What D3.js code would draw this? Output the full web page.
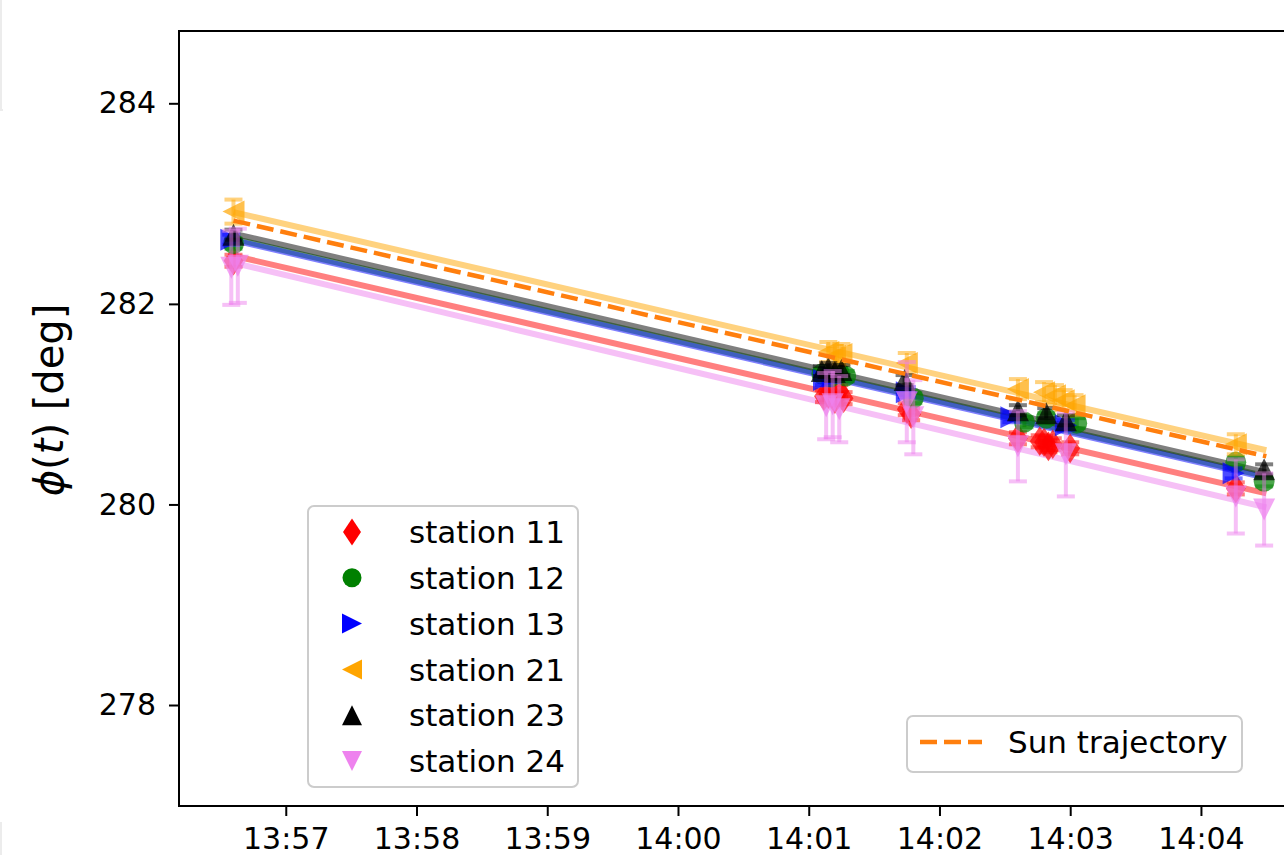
<!DOCTYPE html>
<html>
<head>
<meta charset="utf-8">
<script src="https://cdn.jsdelivr.net/npm/d3@7/dist/d3.min.js"></script>
<style>
  html, body { margin: 0; padding: 0; background: #fff; }
  svg { display: block; font-family: "DejaVu Sans", sans-serif; }
</style>
</head>
<body>
<svg id="chart" width="1284" height="855"></svg>
<script>
// ---- data ---------------------------------------------------------------
const stationNames  = ["station 11", "station 12", "station 13", "station 21", "station 23", "station 24"];
const stationColors = ["#ff0000", "#008000", "#0000ff", "#ffa500", "#000000", "#ee82ee"];
const stationShapes = ["thin_diamond", "circle", "triangle_right", "triangle_left", "triangle_up", "triangle_down"];

// observation times, azimuth values [deg] and 1-sigma errors, per station
const times11 = ["13:56:36","14:01:07","14:01:09","14:01:12","14:01:14","14:01:16","14:01:45","14:01:47","14:02:36","14:02:46","14:02:48","14:02:50","14:02:52","14:03:00","14:04:16"];
const vals11  = [282.43, 281.08, 281.10, 281.05, 281.13, 281.06, 280.95, 280.90, 280.66, 280.63, 280.62, 280.58, 280.60, 280.56, 280.16];
const errs11  = [0.06, 0.06, 0.06, 0.06, 0.06, 0.06, 0.06, 0.06, 0.06, 0.06, 0.06, 0.06, 0.06, 0.06, 0.06];

const times12 = ["13:56:36","14:01:06","14:01:10","14:01:14","14:01:17","14:01:48","14:02:39","14:02:49","14:03:03","14:04:16","14:04:29"];
const vals12  = [282.60, 281.30, 281.27, 281.31, 281.28, 281.06, 280.82, 280.86, 280.81, 280.42, 280.23];
const errs12  = [0.05, 0.05, 0.05, 0.05, 0.05, 0.05, 0.05, 0.05, 0.05, 0.05, 0.05];

const times13 = ["13:56:35","14:01:07","14:01:11","14:01:45","14:02:33","14:02:58","14:04:15"];
const vals13  = [282.64, 281.24, 281.27, 281.12, 280.87, 280.79, 280.31];
const errs13  = [0.05, 0.05, 0.05, 0.05, 0.05, 0.05, 0.05];

const times21 = ["13:56:36","14:01:09","14:01:12","14:01:15","14:01:45","14:02:36","14:02:48","14:02:53","14:02:57","14:03:02","14:04:16"];
const vals21  = [282.92, 281.52, 281.48, 281.50, 281.41, 281.15, 281.12, 281.09, 281.04, 280.99, 280.60];
const errs21  = [0.12, 0.10, 0.10, 0.10, 0.10, 0.10, 0.10, 0.10, 0.10, 0.10, 0.10];

const times23 = ["13:56:36","14:01:06","14:01:09","14:01:12","14:01:15","14:01:44","14:02:36","14:02:49","14:02:58","14:04:29"];
const vals23  = [282.69, 281.33, 281.36, 281.32, 281.34, 281.24, 280.94, 280.91, 280.84, 280.35];
const errs23  = [0.05, 0.05, 0.05, 0.05, 0.05, 0.05, 0.05, 0.05, 0.05, 0.05];

const times24 = ["13:56:35","13:56:38","14:01:08","14:01:11","14:01:14","14:01:45","14:01:48","14:02:36","14:02:58","14:04:16","14:04:29"];
const vals24  = [282.36, 282.38, 280.98, 281.00, 280.95, 281.02, 280.87, 280.58, 280.50, 280.08, 279.95];
const errs24  = [0.37, 0.37, 0.33, 0.33, 0.33, 0.40, 0.37, 0.35, 0.42, 0.37, 0.36];

// linear fits per station: value at fit start and fit end
const fitTimes = ["13:56:36", "14:04:30"];
const fitStart = [282.48, 282.65, 282.635, 282.915, 282.70, 282.41];
const fitEnd   = [280.11, 280.28, 280.265, 280.54, 280.32, 279.97];

// Sun trajectory over the same interval
const sunTimes  = ["13:56:36", "14:04:30"];
const sunValues = [282.83, 280.48];

// axes
const xDomain   = ["13:56:11", "14:04:45"];
const xTicks    = ["13:57","13:58","13:59","14:00","14:01","14:02","14:03","14:04"];
const yDomain   = [276.993, 284.721];
const yTicks    = [278, 280, 282, 284];

// ---- setup --------------------------------------------------------------
const parseT = d3.timeParse("%H:%M:%S");
const parseM = d3.timeParse("%H:%M");

const svg = d3.select("#chart");
const plotL = 179, plotT = 31, plotB = 806, plotR = 1299;

const x = d3.scaleTime().domain(xDomain.map(parseT)).range([plotL, plotR]);
const y = d3.scaleLinear().domain(yDomain).range([plotB, plotT]);

svg.append("defs").append("clipPath").attr("id", "plotclip")
  .append("rect").attr("x", plotL).attr("y", plotT).attr("width", plotR - plotL).attr("height", plotB - plotT);

// faint frame remnants along the left border
svg.append("line").attr("x1", 1).attr("x2", 1).attr("y1", 0).attr("y2", 110)
  .attr("stroke", "#ececec").attr("stroke-width", 2);
svg.append("line").attr("x1", 0).attr("x2", 3).attr("y1", 110).attr("y2", 110)
  .attr("stroke", "#ececec").attr("stroke-width", 2);
svg.append("line").attr("x1", 1).attr("x2", 1).attr("y1", 822).attr("y2", 855)
  .attr("stroke", "#ececec").attr("stroke-width", 2);

const plot = svg.append("g").attr("clip-path", "url(#plotclip)");

// marker path generator (half-size s)
function markerPath(shape, s) {
  switch (shape) {
    case "thin_diamond": {
      const w = s * 0.9, h = s * 1.35;
      return `M0,${-h}L${w},0L0,${h}L${-w},0Z`;
    }
    case "circle":
      return d3.symbol(d3.symbolCircle, Math.PI * (s * 0.95) * (s * 0.95))();
    case "triangle_up":    return `M0,${-s}L${s},${s}L${-s},${s}Z`;
    case "triangle_down":  return `M0,${s}L${s},${-s}L${-s},${-s}Z`;
    case "triangle_right": return `M${s},0L${-s},${s}L${-s},${-s}Z`;
    case "triangle_left":  return `M${-s},0L${s},${s}L${s},${-s}Z`;
  }
}

const stationData = [
  [times11, vals11, errs11],
  [times12, vals12, errs12],
  [times13, vals13, errs13],
  [times21, vals21, errs21],
  [times23, vals23, errs23],
  [times24, vals24, errs24]
];

const line = d3.line().x(d => x(d[0])).y(d => y(d[1]));

// fit lines
stationNames.forEach((name, i) => {
  const pts = [[parseT(fitTimes[0]), fitStart[i]], [parseT(fitTimes[1]), fitEnd[i]]];
  plot.append("path").datum(pts)
    .attr("d", line)
    .attr("fill", "none")
    .attr("stroke", stationColors[i])
    .attr("stroke-opacity", 0.5)
    .attr("stroke-width", 6);
});

// measurements with error bars
stationNames.forEach((name, i) => {
  const [ts, vs, es] = stationData[i];
  const pts = ts.map((t, k) => ({ t: parseT(t), v: vs[k], e: es[k] }));
  const g = plot.append("g");
  const eb = g.selectAll("g.eb").data(pts).enter().append("g")
    .attr("stroke", stationColors[i]).attr("stroke-opacity", 0.5).attr("stroke-width", 4);
  eb.append("line")
    .attr("x1", d => x(d.t)).attr("x2", d => x(d.t))
    .attr("y1", d => y(d.v - d.e)).attr("y2", d => y(d.v + d.e));
  eb.append("line")
    .attr("x1", d => x(d.t) - 9).attr("x2", d => x(d.t) + 9)
    .attr("y1", d => y(d.v - d.e)).attr("y2", d => y(d.v - d.e));
  eb.append("line")
    .attr("x1", d => x(d.t) - 9).attr("x2", d => x(d.t) + 9)
    .attr("y1", d => y(d.v + d.e)).attr("y2", d => y(d.v + d.e));
  g.selectAll("path.mk").data(pts).enter().append("path")
    .attr("transform", d => `translate(${x(d.t)},${y(d.v)})`)
    .attr("d", markerPath(stationShapes[i], 11))
    .attr("fill", stationColors[i])
    .attr("fill-opacity", 0.7);
});

// Sun trajectory
plot.append("path")
  .datum(sunTimes.map((t, k) => [parseT(t), sunValues[k]]))
  .attr("d", line)
  .attr("fill", "none")
  .attr("stroke", "#ff7f0e")
  .attr("stroke-width", 4.5)
  .attr("stroke-dasharray", "17,7");

// ---- axes ---------------------------------------------------------------
const yAxis = d3.axisLeft(y).tickValues(yTicks).tickFormat(d3.format("d"))
  .tickSize(10).tickSizeOuter(0).tickPadding(13);
const yg = svg.append("g").attr("transform", `translate(${plotL},0)`).call(yAxis);

const xAxis = d3.axisBottom(x).tickValues(xTicks.map(parseM)).tickFormat(d3.timeFormat("%H:%M"))
  .tickSize(10).tickSizeOuter(0).tickPadding(12);
const xg = svg.append("g").attr("transform", `translate(0,${plotB})`).call(xAxis);

[yg, xg].forEach(g => {
  g.select(".domain").remove();
  g.selectAll(".tick line").attr("stroke", "#000").attr("stroke-width", 2);
  g.selectAll(".tick text").attr("fill", "#000")
    .style("font-family", "DejaVu Sans").style("font-size", "30px");
});

// spines (left, top, bottom)
svg.append("path")
  .attr("d", `M${plotR},${plotT}L${plotL},${plotT}L${plotL},${plotB}L${plotR},${plotB}`)
  .attr("fill", "none").attr("stroke", "#000").attr("stroke-width", 2);

// y label
const ylab = svg.append("text")
  .attr("transform", "translate(63,400) rotate(-90)")
  .attr("text-anchor", "middle")
  .style("font-size", "40px").attr("fill", "#000");
ylab.append("tspan").style("font-style", "italic").text("ϕ");
ylab.append("tspan").text("(");
ylab.append("tspan").style("font-style", "italic").text("t");
ylab.append("tspan").text(") [deg]");

// ---- legends ------------------------------------------------------------
const leg1 = svg.append("g");
leg1.append("rect")
  .attr("x", 308).attr("y", 506).attr("width", 270).attr("height", 281).attr("rx", 6)
  .attr("fill", "#fff").attr("fill-opacity", 0.8).attr("stroke", "#cccccc").attr("stroke-width", 2);
stationNames.forEach((name, i) => {
  const cy = 532 + i * 45.8;
  leg1.append("path")
    .attr("transform", `translate(352,${cy})`)
    .attr("d", markerPath(stationShapes[i], 10))
    .attr("fill", stationColors[i]);
  leg1.append("text")
    .attr("x", 409).attr("y", cy).attr("dy", "0.36em")
    .style("font-size", "31px").attr("fill", "#000").text(name);
});

const leg2 = svg.append("g");
leg2.append("rect")
  .attr("x", 907).attr("y", 716).attr("width", 335).attr("height", 56).attr("rx", 6)
  .attr("fill", "#fff").attr("fill-opacity", 0.8).attr("stroke", "#cccccc").attr("stroke-width", 2);
leg2.append("line")
  .attr("x1", 920).attr("x2", 982).attr("y1", 742).attr("y2", 742)
  .attr("stroke", "#ff7f0e").attr("stroke-width", 4.5).attr("stroke-dasharray", "17,7");
leg2.append("text")
  .attr("x", 1008).attr("y", 742).attr("dy", "0.36em")
  .style("font-size", "31px").attr("fill", "#000").text("Sun trajectory");
</script>
</body>
</html>
